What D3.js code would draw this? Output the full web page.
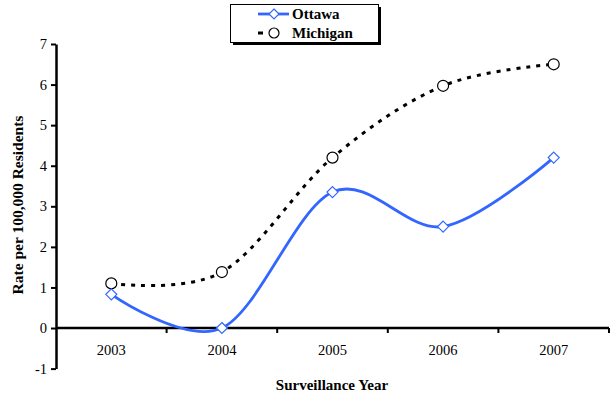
<!DOCTYPE html>
<html><head><meta charset="utf-8">
<script src="https://cdn.jsdelivr.net/npm/d3@7"></script>
<style>body{margin:0;background:#fff}svg{display:block}</style>
</head><body>
<script>
const years = ["2003","2004","2005","2006","2007"];
const ottawa = [0.83, 0, 3.35, 2.5, 4.2];
const michigan = [1.1, 1.38, 4.2, 5.97, 6.5];
const yTicks = [-1,0,1,2,3,4,5,6,7];

const W = 610, H = 398;
const FONT = '"Liberation Serif"';
const svg = d3.select("body").append("svg").attr("width", W).attr("height", H);

const x = d3.scaleBand().domain(years).range([56, 609]);
const y = d3.scaleLinear().domain([-1, 7]).range([368.6, 44]);

// y axis
const yAxis = svg.append("g").attr("transform", "translate(56,0)")
  .call(d3.axisLeft(y).tickValues(yTicks).tickSize(5).tickSizeOuter(0).tickFormat(d => String(d)));
yAxis.select(".domain").attr("stroke", "#000").attr("stroke-width", 2.5);
yAxis.selectAll(".tick line").attr("stroke", "#000").attr("stroke-width", 2);
yAxis.selectAll("text").style("font-family", FONT).style("font-size", "14.5px").attr("fill", "#000").attr("x", -9);

// x axis at y=0
const xAxisG = svg.append("g").attr("transform", `translate(0,${y(0)})`);
xAxisG.append("line").attr("x1", 56).attr("x2", 609).attr("stroke", "#000").attr("stroke-width", 2.5);
const bounds = years.map(d => x(d) + x.bandwidth());
xAxisG.selectAll("line.tk").data(bounds).enter().append("line").attr("class","tk")
  .attr("x1", d => d).attr("x2", d => d).attr("y1", 0).attr("y2", 5)
  .attr("stroke", "#000").attr("stroke-width", 2);
svg.selectAll("text.xl").data(years).enter().append("text").attr("class","xl")
  .attr("x", d => x(d) + x.bandwidth()/2).attr("y", y(0) + 27)
  .attr("text-anchor", "middle").style("font-family", FONT).style("font-size", "14.5px").text(d => d);

// axis titles
svg.append("text").attr("x", 332).attr("y", 390).attr("text-anchor", "middle")
  .style("font-family", FONT).style("font-size", "15px").style("font-weight", "bold").text("Surveillance Year");
svg.append("text").attr("transform", "translate(23,205) rotate(-90)").attr("text-anchor", "middle")
  .style("font-family", FONT).style("font-size", "15.5px").style("font-weight", "bold").text("Rate per 100,000 Residents");

const cx = d => x(d) + x.bandwidth()/2;
const line = d3.line().x((d,i) => cx(years[i])).y(d => y(d)).curve(d3.curveCardinal.tension(0));

svg.append("path").attr("d", line(michigan)).attr("fill", "none").attr("stroke", "#000")
  .attr("stroke-width", 3).attr("stroke-dasharray", "4,6");
svg.append("path").attr("d", line(ottawa)).attr("fill", "none").attr("stroke", "#3366FF")
  .attr("stroke-width", 2.8);

const diamond = (px, py, s) => `M${px},${py-s}L${px+s},${py}L${px},${py+s}L${px-s},${py}Z`;
svg.selectAll("circle.m").data(michigan).enter().append("circle").attr("class","m")
  .attr("cx", (d,i) => cx(years[i])).attr("cy", d => y(d)).attr("r", 5.5)
  .attr("fill", "#fff").attr("stroke", "#000").attr("stroke-width", 1.2);
svg.selectAll("path.o").data(ottawa).enter().append("path").attr("class","o")
  .attr("d", (d,i) => diamond(cx(years[i]), y(d), 5.5))
  .attr("fill", "#fff").attr("stroke", "#3366FF").attr("stroke-width", 1.2);

// legend
const lg = svg.append("g");
lg.append("rect").attr("x", 233).attr("y", 7).attr("width", 148).attr("height", 38).attr("fill", "#000");
lg.append("rect").attr("x", 230.5).attr("y", 4.5).attr("width", 148).attr("height", 38)
  .attr("fill", "#fff").attr("stroke", "#000").attr("stroke-width", 1);
lg.append("line").attr("x1", 258).attr("x2", 289).attr("y1", 14).attr("y2", 14)
  .attr("stroke", "#3366FF").attr("stroke-width", 2.8);
lg.append("path").attr("d", diamond(274, 14, 5)).attr("fill", "#fff").attr("stroke", "#3366FF").attr("stroke-width", 1.2);
lg.append("line").attr("x1", 258).attr("x2", 289).attr("y1", 33).attr("y2", 33)
  .attr("stroke", "#000").attr("stroke-width", 3).attr("stroke-dasharray", "5,26");
lg.append("circle").attr("cx", 274).attr("cy", 33).attr("r", 5).attr("fill", "#fff").attr("stroke", "#000").attr("stroke-width", 1.2);
lg.append("text").attr("x", 292).attr("y", 19).style("font-family", FONT).style("font-size", "15px").style("font-weight", "bold").text("Ottawa");
lg.append("text").attr("x", 292).attr("y", 38).style("font-family", FONT).style("font-size", "15px").style("font-weight", "bold").text("Michigan");
</script>
</body></html>
